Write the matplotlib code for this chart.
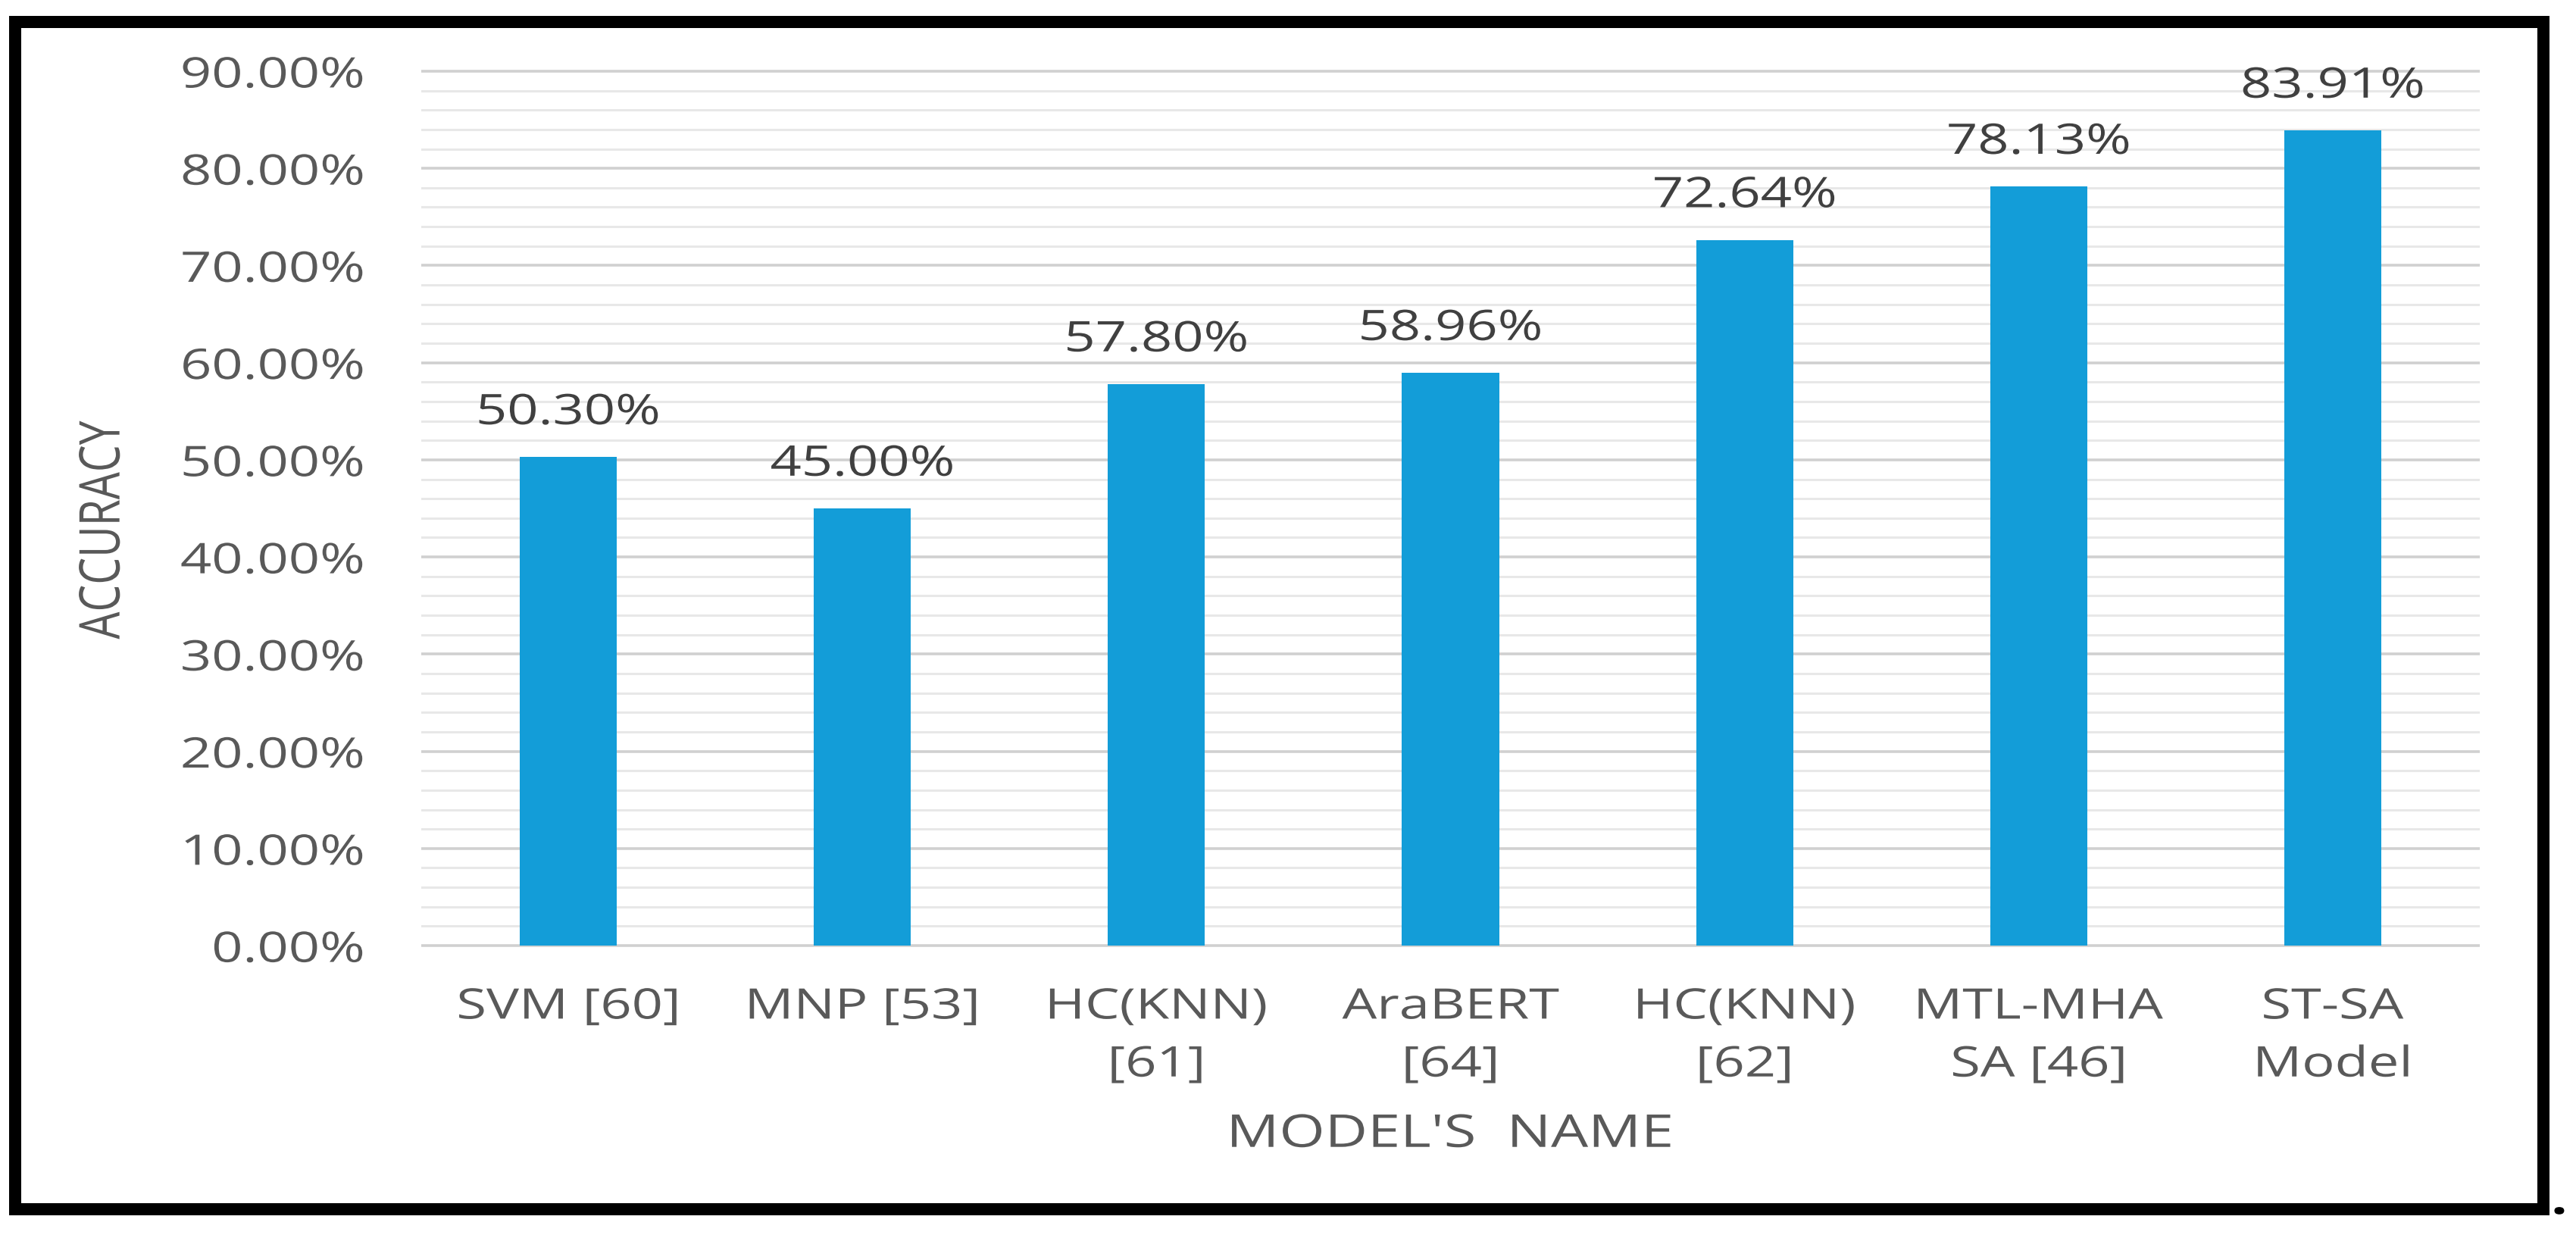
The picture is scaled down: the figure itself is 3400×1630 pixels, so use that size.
import matplotlib
matplotlib.use("Agg")
import matplotlib.pyplot as plt
from matplotlib.patches import Rectangle
from matplotlib.patheffects import AbstractPathEffect
from matplotlib.transforms import Affine2D

# data
models = ["SVM [60]", "MNP [53]", "HC(KNN)\n[61]", "AraBERT\n[64]",
          "HC(KNN)\n[62]", "MTL-MHA\nSA [46]", "ST-SA\nModel"]
accuracy = [50.30, 45.00, 57.80, 58.96, 72.64, 78.13, 83.91]
y_major = list(range(0, 91, 10))
y_minor = list(range(0, 91, 2))

W, H = 3400, 1630
BLUE = "#139dd8"
GREY = "#595959"
DARK = "#404040"
STRETCH = 1.3  # the source picture was scaled sideways, text looks wide


class Widen(AbstractPathEffect):
    """stretch the glyph outlines horizontally around an anchor"""

    def __init__(self, sx=STRETCH, anchor="center"):
        super().__init__()
        self.sx = sx
        self.anchor = anchor

    def draw_path(self, renderer, gc, tpath, affine, rgbFace=None):
        ext = tpath.get_extents(affine)
        if self.anchor == "right":
            cx = ext.x1
        elif self.anchor == "left":
            cx = ext.x0
        else:
            cx = (ext.x0 + ext.x1) / 2
        widen = Affine2D().translate(-cx, 0).scale(self.sx, 1).translate(cx, 0)
        renderer.draw_path(gc, tpath, affine + widen, rgbFace)


plt.rcParams["font.family"] = ["Open Sans", "DejaVu Sans"]

fig = plt.figure(figsize=(W / 100, H / 100), dpi=100)
# plot area in pixels (from top): x 556..3273, y 92..1250
ax = fig.add_axes([556 / W, 1 - 1250 / H, (3273 - 556) / W, (1250 - 92) / H])

x = range(len(models))
bars = ax.bar(x, accuracy, width=0.33, color=BLUE, zorder=2)

ax.set_xlim(-0.5, len(models) - 0.5)
ax.set_ylim(-0.15, 90.15)
ax.set_yticks(y_major)
ax.set_yticks(y_minor, minor=True)
ax.yaxis.set_major_formatter(lambda v, pos: f"{v:.2f}%")
ax.set_xticks(x, labels=models)

ax.tick_params(axis="y", which="both", length=0, pad=54, labelsize=40, labelcolor=GREY)
ax.tick_params(axis="x", length=0, pad=37, labelsize=40, labelcolor=GREY)
ax.grid(axis="y", which="major", color="#d0d0d0", lw=2.6)
ax.grid(axis="y", which="minor", color="#e8e8e8", lw=2.2)
ax.set_axisbelow(True)
for s in ax.spines.values():
    s.set_visible(False)

vals = ax.bar_label(bars, labels=[f"{v:.2f}%" for v in accuracy],
                    padding=21, fontsize=40, color=DARK)

ax.set_ylabel("ACCURACY", fontsize=41, color=GREY, va="center")
ax.yaxis.set_label_coords(-0.1542, 0.4757)
ax.set_xlabel("MODEL'S  NAME", fontsize=43, color=GREY)
ax.xaxis.set_label_coords(0.5, -0.188)

# black frame round the whole picture, plus the stray full stop
fig.add_artist(Rectangle((20 / W, 1 - 1596 / H), (3357 - 20) / W, (1596 - 29) / H,
                         transform=fig.transFigure, fill=False, ec="black",
                         lw=16 * 72 / 100, joinstyle="miter"))
dot = fig.text(3378 / W, 1 - 1602 / H, ".", fontsize=42, ha="center",
               va="baseline", color="black", weight="bold")

for lab in ax.get_xticklabels():
    lab.set_linespacing(1.45)
    lab.set_path_effects([Widen()])
for lab in ax.get_yticklabels():
    lab.set_path_effects([Widen(anchor="right")])
for t in vals + [ax.xaxis.label, ax.yaxis.label, dot]:
    t.set_path_effects([Widen()])

fig.savefig("out.png", dpi=100, facecolor="white")
